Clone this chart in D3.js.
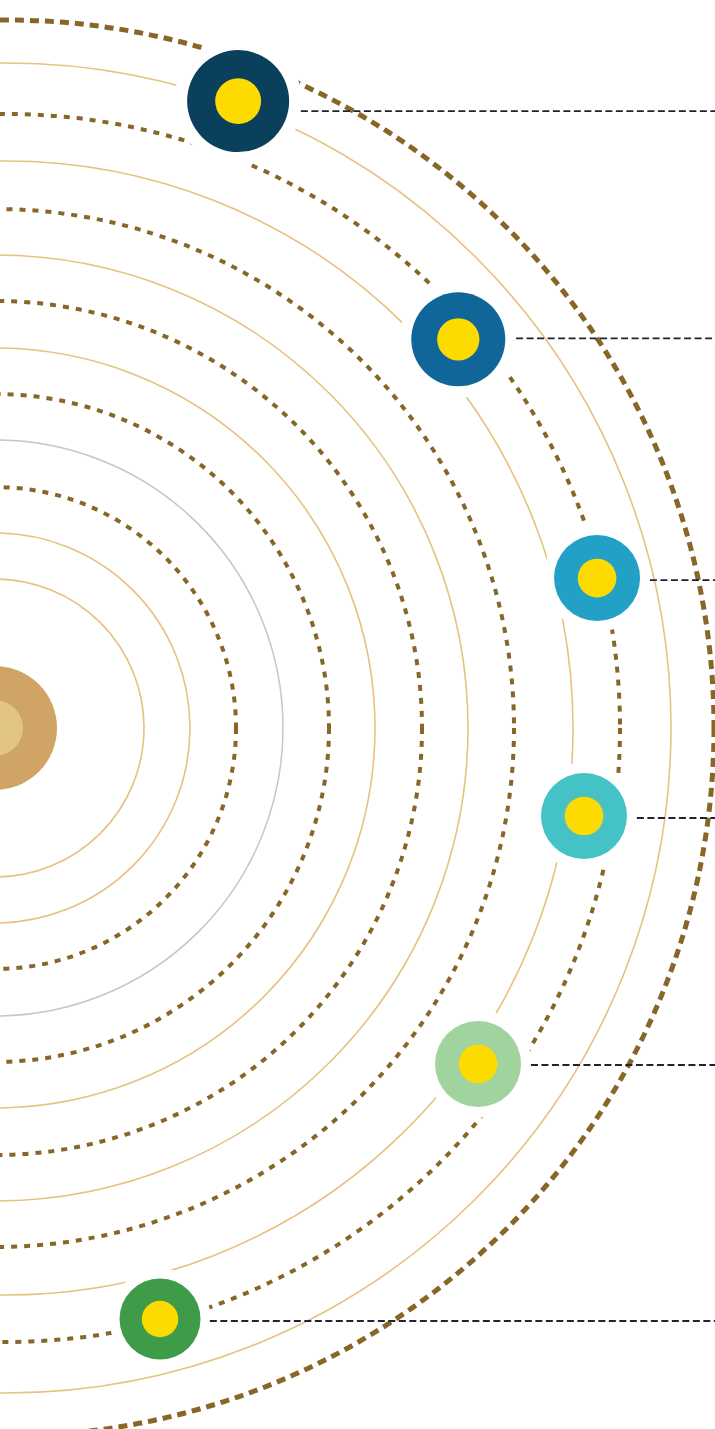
<!DOCTYPE html>
<html>
<head>
<meta charset="utf-8">
<script src="https://cdn.jsdelivr.net/npm/d3@7"></script>
<style>
html,body{margin:0;padding:0;background:#fff;}
svg{display:block;}
</style>
</head>
<body>
<svg id="chart" width="715" height="1429"></svg>
<script>
// ---- data ----
const orbitRadii  = [149, 195, 241, 288, 334, 380, 427, 473, 519, 567, 614, 665, 708];
const orbitKinds  = ["solid","solid","dotted","gray","dotted","solid","dotted","solid","dotted","solid","dotted","solid","dotted-wide"];
const planetNames = ["p1","p2","p3","p4","p5","p6"];
const planetDist  = [670.6, 600.9, 615.6, 590.6, 584.3, 612.3];
const planetAngle = [-69.2, -40.3, -14.1, 8.57, 35.1, 74.85];
const planetSize  = [51, 47, 43, 43, 43, 40.5];
const planetColors= ["#0b405c","#116699","#22a0c6","#45c2c6","#a1d39f","#3e9b48"];
const leaderOffset= [10, -1, 2, 2, 1, 2];

// ---- layout ----
const W = 715, H = 1429;
const svg = d3.select("#chart");
const cy = 728;
const r = d3.scaleLinear().domain([0, 720]).range([0, 720]);
const innerCx = -5, outerCx = 6;
const ringCx = d => d > 540 ? outerCx : innerCx;

const strokeFor = {
  "solid": {c:"#e6c27f", w:1.6, dash:null},
  "gray": {c:"#c3c6ca", w:1.5, dash:null},
  "dotted": {c:"#876628", w:4, dash:"6 7"},
  "dotted-wide": {c:"#876628", w:5, dash:"9 6"}
};

svg.append("g").selectAll("circle")
  .data(orbitRadii.map((d,i)=>({r:d, kind:orbitKinds[i]})))
  .join("circle")
  .attr("cx", d => ringCx(d.r))
  .attr("cy", cy)
  .attr("r", d => r(d.r))
  .attr("fill","none")
  .attr("stroke", d => strokeFor[d.kind].c)
  .attr("stroke-width", d => strokeFor[d.kind].w)
  .attr("stroke-dasharray", d => strokeFor[d.kind].dash);

// sun
svg.append("circle").attr("cx", innerCx).attr("cy", cy).attr("r", 62).attr("fill","#cfa465");
svg.append("circle").attr("cx", innerCx).attr("cy", cy).attr("r", 28).attr("fill","#e2c582");

// planets
const planets = planetNames.map((n,i)=>{
  const a = planetAngle[i]*Math.PI/180;
  return {
    name:n,
    x: r(planetDist[i])*Math.cos(a),
    y: cy + r(planetDist[i])*Math.sin(a),
    s: planetSize[i],
    color: planetColors[i],
    off: leaderOffset[i]
  };
});

const pg = svg.append("g");
// halos
pg.selectAll("circle.halo").data(planets).join("circle")
  .attr("class","halo")
  .attr("cx", d=>d.x).attr("cy", d=>d.y).attr("r", d=>d.s*1.25)
  .attr("fill","#fff");
// leader lines
pg.selectAll("line.leader").data(planets).join("line")
  .attr("class","leader")
  .attr("x1", d=>d.x + d.s*1.23).attr("x2", W)
  .attr("y1", d=>d.y + d.off).attr("y2", d=>d.y + d.off)
  .attr("stroke","#1f2233").attr("stroke-width",1.8)
  .attr("stroke-dasharray","7 3.5");
// bodies
pg.selectAll("circle.body").data(planets).join("circle")
  .attr("class","body")
  .attr("cx", d=>d.x).attr("cy", d=>d.y).attr("r", d=>d.s)
  .attr("fill", d=>d.color);
pg.selectAll("circle.core").data(planets).join("circle")
  .attr("class","core")
  .attr("cx", d=>d.x).attr("cy", d=>d.y).attr("r", d=>d.s*0.45)
  .attr("fill", "#fddb00");
</script>
</body>
</html>
